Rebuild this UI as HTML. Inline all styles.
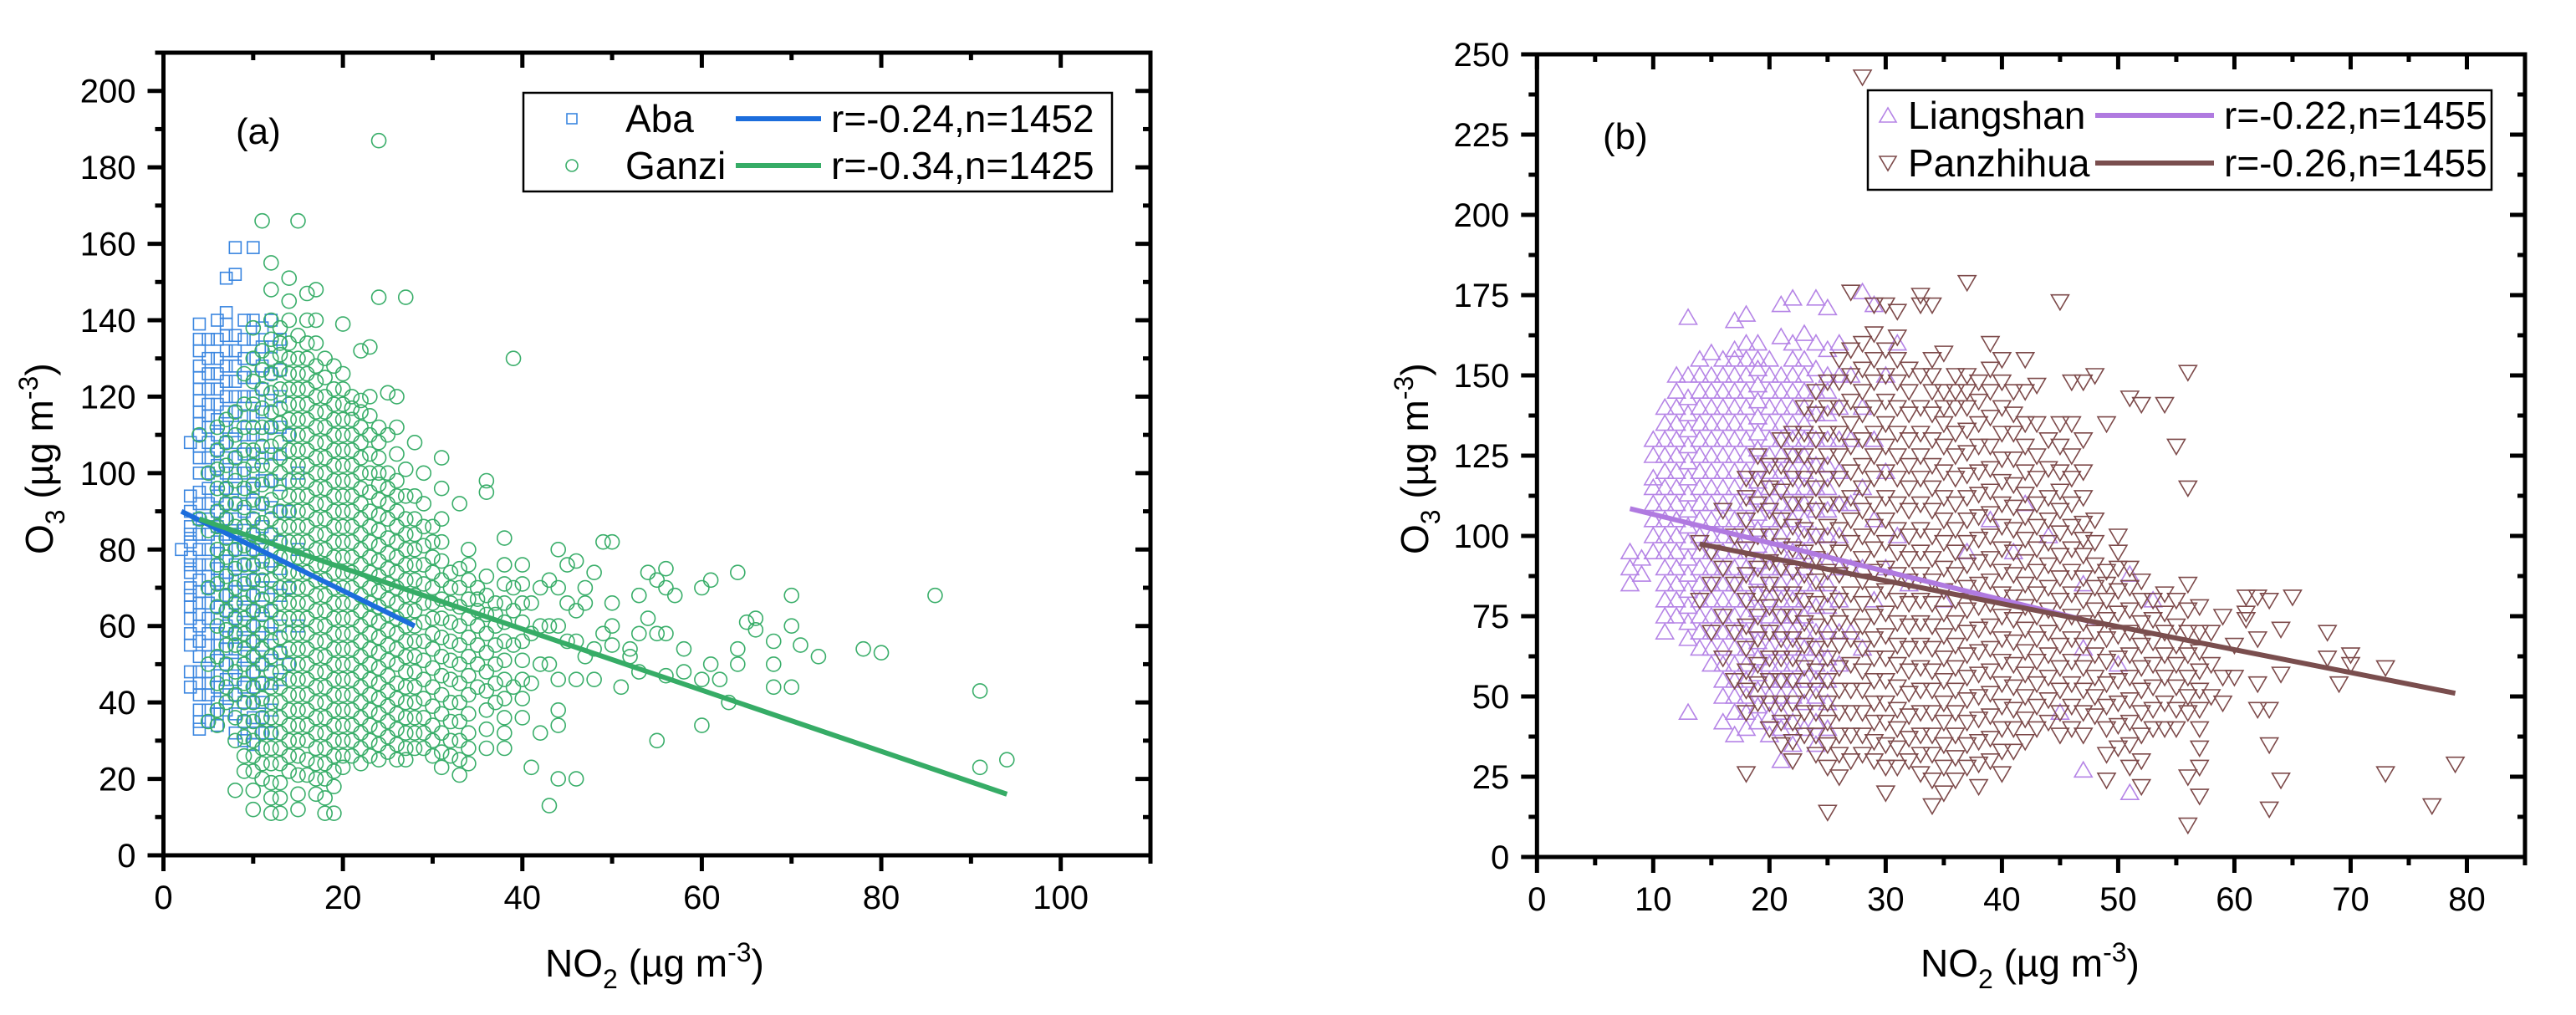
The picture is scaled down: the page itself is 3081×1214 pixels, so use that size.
<!DOCTYPE html>
<html><head><meta charset="utf-8"><style>
html,body{margin:0;padding:0;background:#fff;}
svg{display:block;font-family:"Liberation Sans",Arial,sans-serif;}
</style></head><body>
<svg id="fig" width="3081" height="1214" viewBox="0 0 3081 1214" xmlns="http://www.w3.org/2000/svg">
<g id="panelA"></g>
<g id="panelB"></g>
</svg>
<script>
// ---- Panel (a) data: [NO2 x, [O3 values]] ----
const abaCols = [
[2,[80]],[3,[44,55,62,65,70,74,78,82,86,90,108]],
[4,[33,38,45,52,60,66,72,80,88,95,104,110,116,122,128,132,139]],
[5,[35,42,48,55,62,70,76,84,92,100,108,115,122,130,135]],
[6,[34,40,47,55,62,68,75,82,90,98,106,114,122,130,140]],
[7,[38,46,54,60,68,74,80,88,96,104,112,120,128,136,142,151]],
[8,[32,42,50,58,66,72,80,88,96,104,112,120,128,136,152,159]],
[9,[30,40,48,56,64,72,80,90,100,110,120,130,140]],
[10,[29,36,44,52,60,68,76,84,92,100,110,120,130,140,159]],
[11,[32,40,50,60,70,80,92,104,116,128,138]],
[12,[32,45,58,70,84,98,112,126,140]],
[13,[46,60,75,90,105,120,135]],[14,[50,70,90,110]],[15,[60,80,100]]
];
const abaExtra = [
[3,[48,58,68,76,84,94]],[4,[35,42,48,56,63,69,76,84,92,100,107,113,119,125,135]],
[5,[38,45,52,58,66,73,80,88,96,104,112,118,126]],[6,[37,44,51,58,65,72,79,86,94,102,110,118,126,135]],
[7,[42,50,57,64,71,77,84,92,100,108,116,124,132,139]],[8,[37,46,54,62,69,76,84,92,100,108,116,124,132]],
[9,[35,44,52,60,68,76,85,95,105,115,125,135]],[10,[32,40,48,56,64,72,80,88,96,105,115,125,135]],
[11,[36,45,55,65,75,86,98,110,122,133]],[12,[38,51,64,77,91,105,119,133]],[13,[53,68,82,97,112,127]]
];
const ganziCols = [
[4,[88,110]],[5,[35,50,70,85,100]],[6,[34,45,60,71,80,90,101,112]],[7,[40,50,59,68,78,88,96,108]],
[8,[17,30,42,55,62,70,80,92,104,116]],[9,[22,31,40,50,58,66,76,86,96,106,118,126]],
[10,[12,17,22,30,40,48,56,64,72,80,88,97,106,118,130,138]],
[11,[20,28,36,45,54,63,72,82,92,102,112,122,132,166]],
[12,[11,19,28,36,44,52,60,68,76,84,93,102,112,121,130,140,148,155]],
[13,[11,19,28,36,44,53,62,70,78,86,95,104,113,122,131,138]],
[14,[22,30,38,46,54,62,70,78,86,94,102,110,118,126,134,145,151]],
[15,[12,16,26,34,42,50,58,66,74,82,90,98,106,114,122,130,136,166]],
[16,[21,30,38,46,54,62,70,78,86,94,102,110,118,126,134,147]],
[17,[16,24,32,40,48,56,64,72,80,88,96,104,112,120,128,140,148]],
[18,[11,15,24,32,40,48,56,64,72,80,88,96,104,112,120,130]],
[19,[11,22,30,38,46,54,62,70,78,86,94,102,110,118,128]],
[20,[23,30,38,46,54,62,70,78,86,94,102,110,118,126,139]],
[21,[26,34,42,50,58,66,74,82,90,98,106,114,120]],
[22,[24,32,40,48,56,64,72,80,88,96,104,112,119,132]],
[23,[26,34,42,50,58,66,74,82,90,100,110,120,133]],
[24,[25,33,41,49,57,65,73,81,89,97,104,112,146,187]],
[25,[27,35,43,51,59,67,75,83,92,100,121]],
[26,[25,33,41,50,58,66,74,82,90,98,112,120]],
[27,[25,32,40,48,56,64,72,80,88,101,146]],
[28,[28,36,44,52,60,68,76,84,94,108]],[29,[28,36,46,56,66,76,86,100]],
[30,[26,34,44,54,62,70,78,86]],[31,[23,32,42,52,62,72,82,96,104]],
[32,[26,35,46,56,66,74]],[33,[21,30,40,50,60,70,92]],[34,[24,32,42,52,62,72,80]],
[35,[44,55,64,70]],[36,[28,38,48,58,68,95,98]],[37,[40,50,60,66]],[38,[28,36,46,56,66,76,83]],
[39,[44,55,64,70,130]],[40,[36,46,56,66,76]],[41,[23,45,58,66]],[42,[32,50,60,70]],[43,[13,50,60,72]],
[44,[20,34,38,46,60,70,80]],[45,[56,66,76]],[46,[20,46,56,64,77]],[47,[52,66,70]],[48,[46,54,74]],
[49,[58,82]],[50,[55,60,66,82]],[51,[44]],[52,[52,54]],[53,[48,58,68]],[54,[62,74]],[55,[30,58,72]],
[56,[47,58,70,75]],[57,[68]],[58,[48,54]],[60,[34,46,70]],[61,[50,72]],[62,[46]],[63,[40]],
[64,[50,54,74]],[65,[61]],[66,[59,62]],[68,[44,50,56]],[70,[44,60,68]],[71,[55]],[73,[52]],
[78,[54]],[80,[53]],[86,[68]],[91,[23,43]],[94,[25]]
];
const ganziExtra = [
[6,[38,52,65,76,86,96,106]],[7,[44,55,64,73,83,92,102,114]],[8,[36,48,58,66,75,86,98,110]],
[9,[26,35,45,54,62,71,81,91,101,112]],[10,[26,35,44,52,60,68,76,84,93,102,112,124]],
[11,[24,32,41,50,58,67,77,87,97,107,117,127]],[12,[15,24,32,40,48,56,64,72,80,88,98,107,116,126,135]],
[13,[15,24,32,40,48,57,66,74,82,90,100,108,117,127,134]],[14,[26,34,42,50,58,66,74,82,90,98,106,114,122,130,140]],
[15,[21,30,38,46,54,62,70,78,86,94,102,110,118,126]],[16,[25,34,42,50,58,66,74,82,90,98,106,114,122,130,140]],
[17,[20,28,36,44,52,60,68,76,84,92,100,108,116,124,134]],[18,[20,28,36,44,52,60,68,76,84,92,100,108,116,125]],
[19,[18,26,34,42,50,58,66,74,82,90,98,106,114,122]],[20,[26,34,42,50,58,66,74,82,90,98,106,114,122]],
[21,[30,38,46,54,62,70,78,86,94,102,110,117]],[22,[28,36,44,52,60,68,76,84,92,100,108,116]],
[23,[30,38,46,54,62,70,78,86,95,105,115]],[24,[29,37,45,53,61,69,77,85,93,100,108]],
[25,[31,39,47,55,63,71,79,88,96,110]],[26,[29,37,45,54,62,70,78,86,94,105]],
[27,[28,36,44,52,60,68,76,84,94]],[28,[32,40,48,56,64,72,80,88]],[29,[32,41,51,61,71,81,92]],
[30,[30,39,49,58,66,74,82]],[31,[27,37,47,57,67,77,88]],[32,[30,40,51,61,70]],[33,[25,35,45,55,65,75]],
[34,[28,37,47,57,67,76]],[35,[50,60,67]],[36,[33,43,53,63,73]],[37,[45,55,63]],[38,[32,41,51,61,71]],
[40,[41,51,61,71]]
];
const abaFit = [[2,90],[28,60]];
const ganziFit = [[4,88],[94,16]];
const aXTicks = [0,20,40,60,80,100];
const aYTicks = [0,20,40,60,80,100,120,140,160,180,200];

// ---- Panel (b) data ----
const liangCols = [
[8,[85,90,95]],[9,[88,93]],[10,[95,100,110,118,130]],[11,[70,80,90,100,110,120,130,140]],
[12,[75,85,95,105,115,125,135,150]],[13,[45,68,78,88,98,108,118,128,138,150,168]],
[14,[65,75,85,95,105,115,125,135,145,155]],[15,[60,70,80,90,100,110,120,130,140,150,157]],
[16,[42,55,65,75,85,95,105,115,125,135,145,155]],
[17,[38,50,60,70,80,90,100,110,120,130,140,150,158,167]],
[18,[40,50,60,70,80,90,100,110,120,130,140,150,160,169]],
[19,[42,52,62,72,82,92,102,112,122,132,142,152,160]],
[20,[38,50,60,70,80,90,100,110,120,130,140,150]],
[21,[30,45,55,65,75,85,95,105,115,125,135,145,162,172]],
[22,[35,50,60,70,80,90,100,110,120,130,140,150,160,174]],
[23,[40,55,65,75,85,95,105,115,125,135,145,155,163]],
[24,[35,50,60,70,85,100,115,130,145,160,174]],
[25,[40,55,70,85,100,115,130,145,158,171]],[26,[60,80,100,120,140,160]],
[27,[70,90,110,130,150]],[28,[65,90,115,140,176]],[29,[80,105,130,172]],[30,[90,120,150]],
[31,[100,160]],[32,[85]],[35,[80]],[37,[95]],[39,[105]],[41,[95]],[42,[110]],[44,[100]],
[45,[45]],[47,[27,65,85]],[50,[60]],[51,[20,88]],[53,[80]]
];
const liangExtra = [
[10,[105,115,125]],[11,[75,85,95,105,115,125,135]],[12,[80,90,100,110,120,130,140,145]],
[13,[73,83,93,103,113,123,133,143]],[14,[70,80,90,100,110,120,130,140,150]],
[15,[65,75,85,95,105,115,125,135,145]],[16,[50,60,70,80,90,100,110,120,130,140,150]],
[17,[45,55,65,75,85,95,105,115,125,135,145,155]],[18,[45,55,65,75,85,95,105,115,125,135,145,155]],
[19,[47,57,67,77,87,97,107,117,127,137,147,155]],[20,[44,55,65,75,85,95,105,115,125,135,145,155]],
[21,[40,50,60,70,80,90,100,110,120,130,140,150]],[22,[42,55,65,75,85,95,105,115,125,135,145,155]],
[23,[48,60,70,80,90,100,110,120,130,140,150]],[24,[42,55,65,78,92,108,122,138,152]],
[25,[48,62,78,92,108,122,138,150]],[26,[70,90,110,130,150]]
];
const panzCols = [
[14,[80,98]],[15,[70,85,95]],[16,[62,75,90,108]],[17,[55,70,85,100]],[18,[26,45,58,72,88,105,118]],
[19,[48,60,75,90,110,125]],[20,[40,55,70,85,100,115]],[21,[35,48,62,75,90,105,122,130]],
[22,[30,42,55,68,82,96,110,125]],[23,[38,52,66,80,95,110,125,140]],
[24,[32,45,58,72,86,100,115,130,145]],[25,[14,28,42,55,68,82,96,110,125,140]],
[26,[25,38,52,66,80,95,110,125,140,155]],[27,[30,45,60,75,90,105,120,135,150,176]],
[28,[32,45,58,72,86,100,115,130,145,160,243]],[29,[30,42,55,68,82,96,110,125,140,155,172]],
[30,[20,35,48,62,76,90,105,120,135,150,158,172]],[31,[28,40,53,66,80,95,110,125,140,155,170]],
[32,[30,44,58,72,86,100,115,130,145]],[33,[26,38,52,66,80,95,110,125,140,172,175]],
[34,[16,32,45,58,72,86,100,115,130,145,155,172]],[35,[20,35,48,62,76,90,105,120,135,145,157]],
[36,[24,38,52,66,80,95,110,125,140,150]],[37,[28,42,56,70,84,98,112,126,140,150,179]],
[38,[22,36,50,64,78,92,106,120,135,148]],[39,[30,44,58,72,86,100,114,128,145,160]],
[40,[26,40,54,68,82,96,110,124,140,155]],[41,[33,46,60,74,88,102,116,132,145]],
[42,[36,50,64,78,92,106,120,135,155]],[43,[40,54,68,82,96,110,125,147]],
[44,[42,56,70,84,98,112,130]],[45,[38,52,66,80,94,108,120,135,173]],
[46,[40,54,68,82,96,110,125,148]],[47,[38,52,66,80,94,104,120,148]],[48,[44,56,70,84,98,150]],
[49,[24,40,54,68,80,89,135]],[50,[34,48,62,76,90,100]],[51,[28,42,56,70,84,143]],
[52,[22,38,52,66,80,86,141]],[53,[46,60,74]],[54,[40,56,70,82,141]],[55,[46,60,72,128]],
[56,[10,25,45,56,70,85,115,151]],[57,[19,28,40,52,64,78]],[58,[50,60,70]],[59,[48,56,75]],
[60,[56,66]],[61,[74,76,81]],[62,[46,54,68,81]],[63,[15,35,46,80]],[64,[24,57,71]],[65,[81]],
[68,[62,70]],[69,[54]],[70,[60,63]],[73,[26,59]],[77,[16]],[79,[29]]
];
const panzExtra = [
[18,[52,65,80,96,112]],[19,[54,68,82,100,118]],[20,[48,62,78,92,108,122]],[21,[42,55,68,82,97,114]],
[22,[36,48,62,75,89,103,118,132]],[23,[45,59,73,88,102,118,132]],[24,[38,52,65,79,93,108,122,138]],
[25,[35,48,62,75,89,103,118,132,148]],[26,[32,45,59,73,88,102,118,132,148]],
[27,[38,52,68,82,98,112,128,142,158]],[28,[38,52,65,79,93,108,122,138,152]],
[29,[36,48,62,75,89,103,118,132,148,163]],[30,[28,42,55,69,83,98,112,128,142]],
[31,[34,46,60,73,88,102,118,132,148,162]],[32,[37,51,65,79,93,108,122,138,152]],
[33,[32,45,59,73,88,102,118,132,150]],[34,[24,38,52,65,79,93,108,122,138,150]],
[35,[28,42,55,69,83,98,112,128,140]],[36,[31,45,59,73,88,102,118,132,145]],
[37,[35,49,63,77,91,105,119,133,145]],[38,[29,43,57,71,85,99,113,128,142]],
[39,[37,51,65,79,93,107,121,137,152]],[40,[33,47,61,75,89,103,117,132,148]],
[41,[40,53,67,81,95,109,124,138]],[42,[43,57,71,85,99,113,128,145]],[43,[47,61,75,89,103,118,135]],
[44,[49,63,77,91,105,121]],[45,[45,59,73,87,101,114,128]],[46,[47,61,75,89,103,118,135]],
[47,[45,59,73,87,99,112,130]],[48,[50,63,77,91,105]],[49,[32,47,61,74,85]],[50,[41,55,69,83,95]],
[51,[35,49,63,77,90]],[52,[30,45,59,73]],[53,[40,53,67,80]],[54,[48,63,76]],[55,[40,53,66,80]],
[56,[50,63,77]],[57,[34,46,58,70]]
];
const liangFit = [[8,108.5],[48,73]];
const panzFit = [[14,97.5],[79,51]];
const bXTicks = [0,10,20,30,40,50,60,70,80];
const bYTicks = [0,25,50,75,100,125,150,175,200,225,250];

const NS = "http://www.w3.org/2000/svg";
function mk(tag, attrs, parent){
  const e = document.createElementNS(NS, tag);
  for (const k in attrs) e.setAttribute(k, attrs[k]);
  parent.appendChild(e);
  return e;
}
function axisScale(d0,d1,r0,r1){ return v => r0 + (v-d0)*(r1-r0)/(d1-d0); }

function drawPanel(g, cfg){
  const X = axisScale(cfg.xmin,cfg.xmax,cfg.L,cfg.R);
  const Y = axisScale(cfg.ymin,cfg.ymax,cfg.B,cfg.T);
  cfg.series.forEach(s=>{
    const sg = mk('g',{fill:'none',stroke:s.color,'stroke-width':1.6},g);
    
    
    s.cols.forEach(c=>{
      c[1].forEach(v=>{
        const px = X(c[0]), py = Y(v);
        let m;
        if (s.shape==='square') m = mk('rect',{x:px-7,y:py-7,width:14,height:14},sg);
        else if (s.shape==='circle') m = mk('ellipse',{cx:px,cy:py,rx:8.5,ry:8.5},sg);
        else if (s.shape==='up') m = mk('polygon',{points:`${px},${py-10} ${px-10.5},${py+8} ${px+10.5},${py+8}`},sg);
        else m = mk('polygon',{points:`${px-10.5},${py-8} ${px+10.5},${py-8} ${px},${py+10}`},sg);
        
        
      });
    });
  });
  cfg.series.forEach(s=>{
    const f = s.fit;
    const ln = mk('line',{x1:X(f[0][0]),y1:Y(f[0][1]),x2:X(f[1][0]),y2:Y(f[1][1]),stroke:s.lineColor,'stroke-width':6},g);
    
    
  });
  const fr = mk('rect',{x:cfg.L,y:cfg.T,width:cfg.R-cfg.L,height:cfg.B-cfg.T,fill:'none',stroke:'#000','stroke-width':5},g);
  
  
  const tg = mk('g',{stroke:'#000','stroke-width':5},g);
  
  
  cfg.xTicks.forEach(v=>{
    const px = X(v);
    mk('line',{x1:px,y1:cfg.B,x2:px,y2:cfg.B+19},tg);
    mk('line',{x1:px,y1:cfg.T,x2:px,y2:cfg.T+18},tg);
    const t = mk('text',{x:px,y:cfg.B+64,'font-size':40,'text-anchor':'middle',fill:'#000',stroke:'none'},g);
    t.textContent = String(v);
    
    
    const mv = v + cfg.xMinor;
    if (mv <= cfg.xmax){
      mk('line',{x1:X(mv),y1:cfg.B,x2:X(mv),y2:cfg.B+10},tg);
      mk('line',{x1:X(mv),y1:cfg.T,x2:X(mv),y2:cfg.T+9},tg);
    }
  });
  cfg.yTicks.forEach(v=>{
    const py = Y(v);
    mk('line',{x1:cfg.L-19,y1:py,x2:cfg.L,y2:py},tg);
    mk('line',{x1:cfg.R-18,y1:py,x2:cfg.R,y2:py},tg);
    const t = mk('text',{x:cfg.L-33,y:py+14,'font-size':40,'text-anchor':'end',fill:'#000',stroke:'none'},g);
    t.textContent = String(v);
    
    
    const mv = v + cfg.yMinor;
    if (mv <= cfg.ymax){
      mk('line',{x1:cfg.L-10,y1:Y(mv),x2:cfg.L,y2:Y(mv)},tg);
      mk('line',{x1:cfg.R-9,y1:Y(mv),x2:cfg.R,y2:Y(mv)},tg);
    }
  });
  const pl = mk('text',{x:cfg.tagX,y:cfg.tagY,'font-size':44,fill:'#000'},g);
  pl.textContent = cfg.tag;
  
  
  const xt = mk('text',{x:cfg.xtX,y:1168,'font-size':46,fill:'#000'},g);
  xt.innerHTML = 'NO<tspan dy="14" font-size="32">2</tspan><tspan dy="-14"> (µg m</tspan><tspan dy="-18" font-size="32">-3</tspan><tspan dy="18">)</tspan>';
  
  
  const yt = mk('text',{x:0,y:0,'font-size':46,fill:'#000',transform:`translate(${cfg.ytX},663) rotate(-90)`},g);
  yt.innerHTML = 'O<tspan dy="14" font-size="32">3</tspan><tspan dy="-14"> (µg m</tspan><tspan dy="-18" font-size="32">-3</tspan><tspan dy="18">)</tspan>';
  
  
  const lg = cfg.legend;
  const lb = mk('g',{},g);
  
  
  mk('rect',{x:lg.x,y:lg.y,width:lg.w,height:lg.h,fill:'#fff',stroke:'#000','stroke-width':2.5},lb);
  cfg.series.forEach((s,i)=>{
    const ry = lg.rows[i];
    const mx = lg.mx, my = ry;
    let m;
    if (s.shape==='square') m = mk('rect',{x:mx-6,y:my-6,width:12,height:12,fill:'none',stroke:s.color,'stroke-width':1.6},lb);
    else if (s.shape==='circle') m = mk('ellipse',{cx:mx,cy:my,rx:7,ry:7,fill:'none',stroke:s.color,'stroke-width':1.6},lb);
    else if (s.shape==='up') m = mk('polygon',{points:`${mx},${my-9} ${mx-10},${my+8} ${mx+10},${my+8}`,fill:'none',stroke:s.color,'stroke-width':1.6},lb);
    else m = mk('polygon',{points:`${mx-10},${my-8} ${mx+10},${my-8} ${mx},${my+9}`,fill:'none',stroke:s.color,'stroke-width':1.6},lb);
    
    
    const nt = mk('text',{x:lg.tx,y:ry+16,'font-size':46,fill:'#000'},lb);
    nt.textContent = s.label;
    
    
    const ll = mk('line',{x1:lg.l1,y1:ry,x2:lg.l2,y2:ry,stroke:s.lineColor,'stroke-width':6},lb);
    
    
    const rt = mk('text',{x:lg.rx,y:ry+16,'font-size':46,fill:'#000'},lb);
    rt.textContent = s.stat;
    
    
  });
}

drawPanel(document.getElementById('panelA'), {
  L:195.5, R:1376, T:63, B:1023, xmin:0, xmax:110, ymin:0, ymax:210,
  xTicks:aXTicks, yTicks:aYTicks, xMinor:10, yMinor:10,
  tag:'(a)', tagX:282, tagY:172, xtX:652, ytX:63,
  series:[
    {name:'aba',label:'Aba',stat:'r=-0.24,n=1452',shape:'square',color:'#3a86e0',lineColor:'#1c6ddc',cols:abaCols.concat(abaExtra),fit:abaFit},
    {name:'ganzi',label:'Ganzi',stat:'r=-0.34,n=1425',shape:'circle',color:'#3aae6a',lineColor:'#36ac66',cols:ganziCols.concat(ganziExtra),fit:ganziFit}
  ],
  legend:{x:626,y:111,w:704,h:118,rows:[142,198],mx:684,tx:748,l1:880,l2:982,rx:994}
});
drawPanel(document.getElementById('panelB'), {
  L:1838.3, R:3020, T:65, B:1025, xmin:0, xmax:85, ymin:0, ymax:250,
  xTicks:bXTicks, yTicks:bYTicks, xMinor:5, yMinor:12.5,
  tag:'(b)', tagX:1917, tagY:178, xtX:2297, ytX:1708,
  series:[
    {name:'liangshan',label:'Liangshan',stat:'r=-0.22,n=1455',shape:'up',color:'#b584e6',lineColor:'#b07ae0',cols:liangCols.concat(liangExtra),fit:liangFit},
    {name:'panzhihua',label:'Panzhihua',stat:'r=-0.26,n=1455',shape:'down',color:'#7d4a4a',lineColor:'#7a4e4e',cols:panzCols.concat(panzExtra),fit:panzFit}
  ],
  legend:{x:2234,y:108,w:746,h:119,rows:[138,195],mx:2258,tx:2282,l1:2506,l2:2648,rx:2660}
});
</script>
</body></html>
